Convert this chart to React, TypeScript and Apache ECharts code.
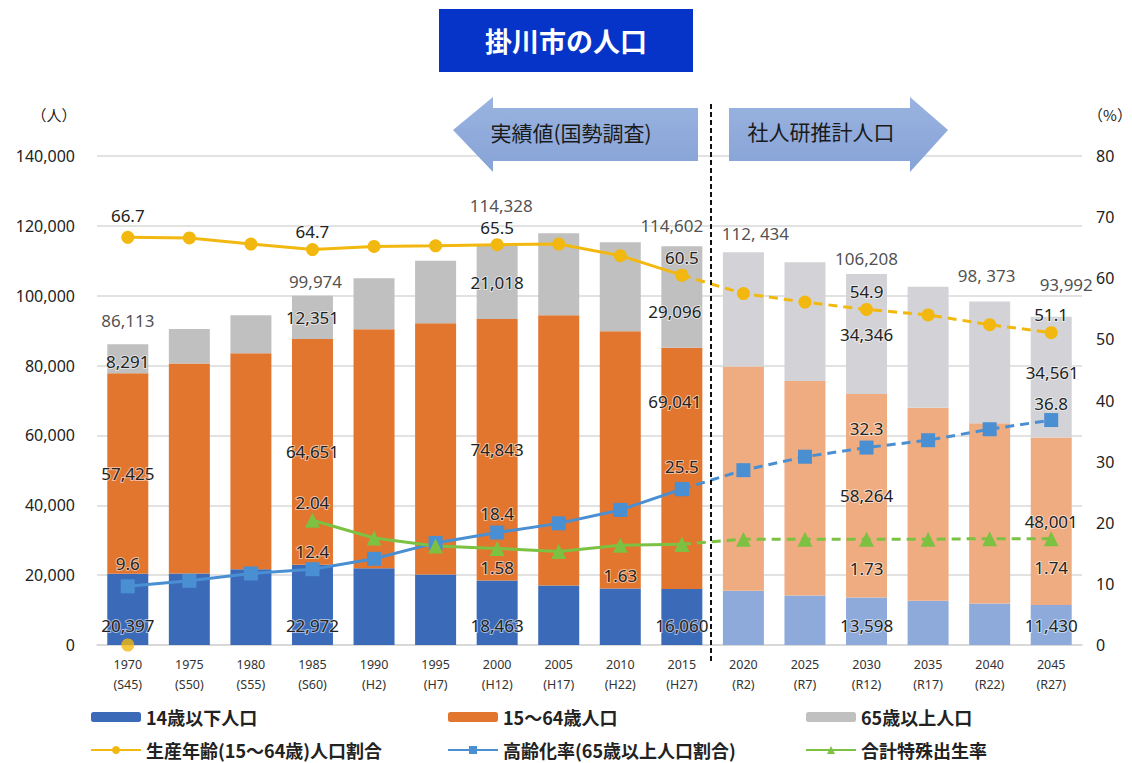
import React, { useEffect, useRef } from "react";
import * as echarts from "echarts";

const years = ["1970", "1975", "1980", "1985", "1990", "1995", "2000", "2005", "2010", "2015", "2020", "2025", "2030", "2035", "2040", "2045"];
const eras = ["S45", "S50", "S55", "S60", "H2", "H7", "H12", "H17", "H22", "H27", "R2", "R7", "R12", "R17", "R22", "R27"];

const age0to14 = [20397, 20500, 21700, 22972, 22000, 20200, 18463, 17000, 16200, 16060, 15500, 14200, 13598, 12700, 11900, 11430];
const age15to64 = [57425, 60100, 61800, 64651, 68400, 71900, 74843, 77400, 73600, 69041, 64200, 61400, 58264, 55200, 51600, 48001];
const age65plus = [8291, 9900, 10900, 12351, 14600, 17900, 21018, 23500, 25500, 29096, 32734, 34000, 34346, 34700, 34873, 34561];
const totals = [86113, null, null, 99974, null, null, 114328, null, null, 114602, 112434, null, 106208, null, 98373, 93992];
const totalLabels = ["86,113", "", "", "99,974", "", "", "114,328", "", "", "114,602", "112, 434", "", "106,208", "", "98, 373", "93,992"];

const workingAgeRatio = [66.7, 66.6, 65.6, 64.7, 65.2, 65.3, 65.5, 65.6, 63.7, 60.5, 57.5, 56.1, 54.9, 54.0, 52.4, 51.1];
const agingRate = [9.6, 10.5, 11.7, 12.4, 14.1, 16.7, 18.4, 19.9, 22.1, 25.5, 28.6, 30.8, 32.3, 33.5, 35.3, 36.8];
const fertilityRate = [null, null, null, 2.04, 1.75, 1.62, 1.58, 1.53, 1.63, 1.65, 1.73, 1.73, 1.73, 1.73, 1.74, 1.74];
const workingAgeStray = [0];

const lastActualIndex = 9;
const labeledIdx = [0, 3, 6, 9, 12, 15];
const fertilityLabeledIdx = [3, 6, 8, 12, 15];

const FONT = "'Noto Sans', 'Noto Sans CJK JP', sans-serif";
const CJK = "'Noto Sans CJK JP', sans-serif";

const COL = {
  blue: "#3b6bb8",
  orange: "#e2762f",
  grey: "#c0c0c0",
  blueLight: "#8eaadb",
  orangeLight: "#efac80",
  greyLight: "#d3d3d7",
  yellowLine: "#f2b80f",
  blueLine: "#4a8fd2",
  greenLine: "#7cc142",
};

const labelText = {
  fontFamily: FONT,
  fontSize: 17,
  color: "#222",
  textBorderColor: "rgba(255,255,255,0.55)",
  textBorderWidth: 2,
};

function buildOption() {
  const isProj = (i: number) => i > lastActualIndex;
  const fmtInt = (v: number) => v.toLocaleString("en-US");

  const barData = (arr: number[], light: string, labelCfg: (i: number) => any) =>
    arr.map((v, i) => ({
      value: v,
      itemStyle: isProj(i) ? { color: light } : undefined,
      label: labelCfg(i),
    }));

  const orangeOffsets: Record<number, number[]> = { 9: [-7, -67] };
  const greyOffsets: Record<number, number[]> = { 0: [0, 3], 9: [-7, 15], 15: [1, -5] };

  const totalAdj: Record<number, { d: number; dx: number }> = {
    0: { d: 15, dx: 0 },
    3: { d: 6, dx: 3 },
    6: { d: 32, dx: 4 },
    9: { d: 11, dx: -10 },
    10: { d: 10, dx: 12 },
    12: { d: 7, dx: 0 },
    14: { d: 17, dx: -3 },
    15: { d: 24, dx: 15 },
  };

  const yellowDist: Record<number, number> = { 0: 7, 6: 2 };
  const blueDist: Record<number, number> = { 0: 7, 3: 2, 9: 7, 15: 1 };
  const greenLbl: Record<number, { pos: string; d: number }> = {
    3: { pos: "top", d: 2 },
    6: { pos: "bottom", d: 3 },
    8: { pos: "bottom", d: 14 },
    12: { pos: "bottom", d: 13 },
    15: { pos: "bottom", d: 13 },
  };

  const lineData = (
    arr: (number | null)[],
    part: "solid" | "dash",
    lblFn: (i: number) => any
  ) =>
    arr.map((v, i) => {
      const inPart = part === "solid" ? i <= lastActualIndex : i >= lastActualIndex;
      if (!inPart || v === null) return null;
      const showOnThis = part === "solid" ? true : i !== lastActualIndex;
      return { value: v, label: showOnThis ? lblFn(i) : { show: false } };
    });

  const yellowLbl = (i: number) => ({
    show: labeledIdx.includes(i),
    position: "top",
    distance: yellowDist[i] ?? 3,
    formatter: (p: any) => Number(p.value).toFixed(1),
    ...labelText,
  });
  const blueLbl = (i: number) => ({
    show: labeledIdx.includes(i),
    position: "top",
    distance: blueDist[i] ?? 4,
    formatter: (p: any) => Number(p.value).toFixed(1),
    ...labelText,
  });
  const greenLblFn = (i: number) => ({
    show: fertilityLabeledIdx.includes(i),
    position: greenLbl[i]?.pos ?? "top",
    distance: greenLbl[i]?.d ?? 4,
    formatter: (p: any) => Number(p.value).toFixed(2),
    ...labelText,
  });

  const N1 = "14歳以下人口";
  const N2 = "15〜64歳人口";
  const N3 = "65歳以上人口";
  const L1 = "生産年齢(15〜64歳)人口割合";
  const L2 = "高齢化率(65歳以上人口割合)";
  const L3 = "合計特殊出生率";

  const lineCommon = (color: string, symbol: string, size: number, dashed: boolean) => ({
    type: "line",
    symbol,
    symbolSize: size,
    itemStyle: { color },
    lineStyle: { color, width: 3, type: dashed ? [9, 6] : "solid" },
    z: 5,
  });

  const legendBase = {
    orient: "vertical",
    top: 708,
    height: 54,
    padding: 0,
    itemWidth: 50,
    itemHeight: 10,
    itemGap: 15,
    textStyle: { fontFamily: CJK, fontSize: 18, fontWeight: "bold", color: "#222", lineHeight: 18 },
  };

  return {
    animation: false,
    backgroundColor: "#fff",
    title: {
      text: "掛川市の人口",
      left: "center",
      top: 9,
      backgroundColor: "#0634c8",
      padding: [18, 46, 18, 46],
      textStyle: { color: "#fff", fontFamily: CJK, fontSize: 27, fontWeight: "bold" },
    },
    legend: [
      { ...legendBase, left: 90, data: [N1, L1] },
      { ...legendBase, left: 447, data: [N2, L2] },
      { ...legendBase, left: 805, data: [N3, L3] },
    ],
    grid: { left: 97, right: 50, top: 156, bottom: 118, containLabel: false },
    xAxis: {
      type: "category",
      data: years.map((y, i) => `${y}\n(${eras[i]})`),
      axisTick: { show: false },
      axisLine: { lineStyle: { color: "#d6d6d6", width: 1.5 } },
      axisLabel: {
        interval: 0,
        margin: 9,
        fontFamily: FONT,
        fontSize: 12.5,
        lineHeight: 20,
        color: "#333",
      },
    },
    yAxis: [
      {
        type: "value",
        min: 0,
        max: 140000,
        interval: 20000,
        axisLine: { show: false },
        axisTick: { show: false },
        splitLine: { lineStyle: { color: "#d9d9d9", width: 1.5 } },
        axisLabel: { margin: 22, fontFamily: FONT, fontSize: 16, color: "#222", formatter: (v: number) => fmtInt(v) },
      },
      {
        type: "value",
        min: 0,
        max: 80,
        interval: 10,
        position: "right",
        axisLine: { show: false },
        axisTick: { show: false },
        splitLine: { show: false },
        axisLabel: { margin: 14, fontFamily: FONT, fontSize: 16, color: "#222" },
      },
      {
        type: "value",
        min: 0,
        max: 8,
        position: "right",
        show: false,
        splitLine: { show: false },
      },
    ],
    series: [
      {
        name: N1,
        type: "bar",
        stack: "pop",
        barWidth: 41,
        itemStyle: { color: COL.blue },
        data: barData(age0to14, COL.blueLight, (i) => ({
          show: labeledIdx.includes(i),
          position: "insideBottom",
          distance: 11,
          formatter: (p: any) => fmtInt(p.value),
          ...labelText,
        })),
      },
      {
        name: N2,
        type: "bar",
        stack: "pop",
        barWidth: 41,
        itemStyle: { color: COL.orange },
        data: barData(age15to64, COL.orangeLight, (i) => ({
          show: labeledIdx.includes(i),
          position: "inside",
          offset: orangeOffsets[i] ?? [0, 0],
          formatter: (p: any) => fmtInt(p.value),
          ...labelText,
        })),
      },
      {
        name: N3,
        type: "bar",
        stack: "pop",
        barWidth: 41,
        itemStyle: { color: COL.grey },
        data: barData(age65plus, COL.greyLight, (i) => ({
          show: labeledIdx.includes(i),
          position: "inside",
          offset: greyOffsets[i] ?? [0, 0],
          formatter: (p: any) => fmtInt(p.value),
          ...labelText,
        })),
      },
      {
        name: "総人口",
        type: "scatter",
        symbolSize: 0,
        silent: true,
        z: 6,
        itemStyle: { color: "transparent" },
        data: totals.map((v, i) =>
          v === null
            ? null
            : {
                value: v,
                label: {
                  show: true,
                  position: "top",
                  distance: totalAdj[i]?.d ?? 8,
                  offset: [totalAdj[i]?.dx ?? 0, 0],
                  formatter: () => totalLabels[i],
                  ...labelText,
                },
              }
        ),
      },
      {
        name: L1,
        ...lineCommon(COL.yellowLine, "circle", 13, false),
        yAxisIndex: 1,
        data: lineData(workingAgeRatio, "solid", yellowLbl),
      },
      {
        name: L1,
        ...lineCommon(COL.yellowLine, "circle", 13, true),
        yAxisIndex: 1,
        data: lineData(workingAgeRatio, "dash", yellowLbl),
      },
      {
        name: L1,
        type: "scatter",
        yAxisIndex: 1,
        symbol: "circle",
        symbolSize: 13,
        itemStyle: { color: COL.yellowLine },
        data: workingAgeStray,
        z: 5,
      },
      {
        name: L2,
        ...lineCommon(COL.blueLine, "rect", 14, false),
        yAxisIndex: 1,
        data: lineData(agingRate, "solid", blueLbl),
      },
      {
        name: L2,
        ...lineCommon(COL.blueLine, "rect", 14, true),
        yAxisIndex: 1,
        data: lineData(agingRate, "dash", blueLbl),
      },
      {
        name: L3,
        ...lineCommon(COL.greenLine, "triangle", 15, false),
        yAxisIndex: 2,
        data: lineData(fertilityRate, "solid", greenLblFn),
      },
      {
        name: L3,
        ...lineCommon(COL.greenLine, "triangle", 15, true),
        yAxisIndex: 2,
        data: lineData(fertilityRate, "dash", greenLblFn),
      },
    ],
    graphic: [
      {
        type: "polygon",
        z: 1,
        shape: {
          points: [
            [453, 130], [493, 97], [493, 108], [698, 108], [698, 161], [493, 161], [493, 172],
          ],
        },
        style: {
          fill: new echarts.graphic.LinearGradient(0, 0, 0, 1, [
            { offset: 0, color: "#9ab3e0" },
            { offset: 1, color: "#86a3d6" },
          ]),
        },
      },
      {
        type: "polygon",
        z: 1,
        shape: {
          points: [
            [729, 108], [910, 108], [910, 97], [948, 130], [910, 172], [910, 161], [729, 161],
          ],
        },
        style: {
          fill: new echarts.graphic.LinearGradient(0, 0, 0, 1, [
            { offset: 0, color: "#9ab3e0" },
            { offset: 1, color: "#86a3d6" },
          ]),
        },
      },
      {
        type: "text",
        z: 2,
        x: 571,
        y: 132,
        style: {
          text: "実績値(国勢調査)",
          fill: "#1a1a1a",
          font: `21px ${CJK}`,
          textAlign: "center",
          textVerticalAlign: "middle",
        },
      },
      {
        type: "text",
        z: 2,
        x: 821,
        y: 131,
        style: {
          text: "社人研推計人口",
          fill: "#1a1a1a",
          font: `21px ${CJK}`,
          textAlign: "center",
          textVerticalAlign: "middle",
        },
      },
      {
        type: "line",
        z: 10,
        shape: { x1: 711, y1: 104, x2: 711, y2: 661 },
        style: { stroke: "#111", lineWidth: 2, lineDash: [5, 3] },
      },
      {
        type: "text",
        x: 54,
        y: 114,
        style: { text: "（人）", fill: "#222", font: `15px ${CJK}`, textAlign: "center", textVerticalAlign: "middle" },
      },
      {
        type: "text",
        x: 1110,
        y: 114,
        style: { text: "（%）", fill: "#222", font: `15px ${CJK}`, textAlign: "center", textVerticalAlign: "middle" },
      },
    ],
  };
}

export default function App() {
  const ref = useRef<HTMLDivElement>(null);
  useEffect(() => {
    if (!ref.current) return;
    const chart = echarts.init(ref.current, undefined, { renderer: "svg" });
    chart.setOption(buildOption() as any);
    return () => chart.dispose();
  }, []);
  return (
    <div
      ref={ref}
      style={{ position: "absolute", left: 0, top: 0, width: 1132, height: 763, background: "#fff" }}
    />
  );
}
